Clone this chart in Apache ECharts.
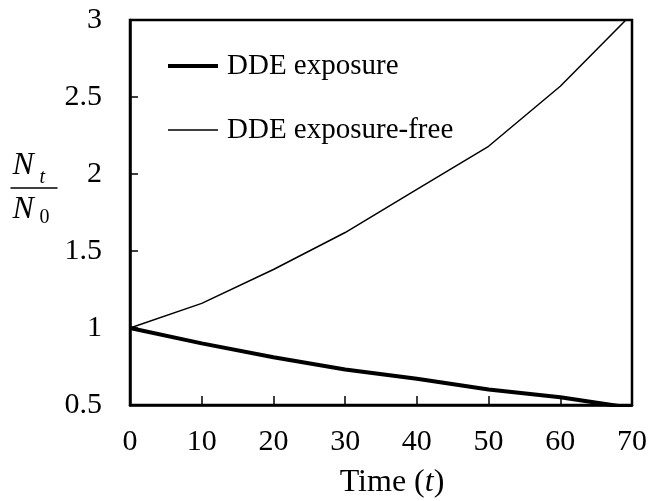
<!DOCTYPE html>
<html>
<head>
<meta charset="utf-8">
<script src="https://cdn.jsdelivr.net/npm/echarts@6/dist/echarts.min.js"></script>
<style>
  html, body { margin: 0; padding: 0; background: #fff; }
  #chart { width: 650px; height: 501px; }
</style>
</head>
<body>
<div id="chart"></div>
<script>
// values
var times = [0, 10, 20, 30, 40, 50, 60, 70];
var exposure = [1, 0.9, 0.81, 0.73, 0.67, 0.6, 0.55, 0.48];
var exposureFree = [1, 1.16, 1.38, 1.62, 1.9, 2.18, 2.57, 3.04];
var yTicks = ["0.5", "1", "1.5", "2", "2.5", "3"];

var font = "Liberation Serif";

function pairs(ys) {
  return times.map(function (t, i) { return [t, ys[i]]; });
}

var mychart = echarts.init(document.getElementById("chart"));
var option = {
  animation: false,
  backgroundColor: "#fff",
  grid: {
    left: 130,
    right: 18,
    top: 20,
    bottom: 96,
    outerBoundsMode: "none",
    containLabel: false,
    show: true,
    borderColor: "#000",
    borderWidth: 2.5,
    backgroundColor: "transparent"
  },
  legend: {
    orient: "vertical",
    left: 163,
    top: 46,
    itemWidth: 50,
    itemHeight: 14,
    itemGap: 34,
    textStyle: {
      fontFamily: font,
      fontSize: 29,
      color: "#000",
      lineHeight: 30,
      padding: [0, 0, 0, 4]
    },
    data: [
      { name: "DDE exposure", icon: "path://M0,0H50V4H0Z", itemStyle: { color: "#000" } },
      { name: "DDE exposure-free", icon: "path://M0,0H50V1.5H0Z", itemStyle: { color: "#000" } }
    ]
  },
  xAxis: {
    type: "value",
    min: 0,
    max: 70,
    interval: 10,
    name: "Time ({i|t})",
    nameLocation: "middle",
    nameGap: 62,
    nameTextStyle: {
      fontFamily: font,
      fontSize: 32,
      color: "#000",
      padding: [0, 0, 0, 22],
      rich: {
        i: { fontFamily: font, fontSize: 32, fontStyle: "italic", color: "#000" }
      }
    },
    axisLine: { lineStyle: { color: "#000", width: 2.5 } },
    axisTick: { inside: true, length: 9, lineStyle: { color: "#000", width: 1.5 } },
    axisLabel: {
      margin: 22,
      fontFamily: font,
      fontSize: 30,
      color: "#000",
      showMaxLabel: true
    },
    splitLine: { show: false }
  },
  yAxis: {
    type: "value",
    min: 0.5,
    max: 3,
    interval: 0.5,
    axisLine: { show: true, lineStyle: { color: "#000", width: 2.5 } },
    axisTick: { show: true, inside: true, length: 8, lineStyle: { color: "#000", width: 1.5 } },
    axisLabel: {
      margin: 28,
      fontFamily: font,
      fontSize: 30,
      color: "#000",
      formatter: function (v) {
        var i = Math.round((v - 0.5) / 0.5);
        return yTicks[i];
      }
    },
    splitLine: { show: false }
  },
  graphic: [
    {
      type: "group",
      left: 8,
      top: 150,
      children: [
        { type: "text", x: 2, y: 2, style: { text: "N", font: "italic 32px " + font, fill: "#000" } },
        { type: "text", x: 29, y: 20, style: { text: "t", font: "italic 20px " + font, fill: "#000" } },
        { type: "line", shape: { x1: 0, y1: 40, x2: 47, y2: 40 }, style: { stroke: "#000", lineWidth: 1.5 } },
        { type: "text", x: 2, y: 46, style: { text: "N", font: "italic 32px " + font, fill: "#000" } },
        { type: "text", x: 29, y: 60, style: { text: "0", font: "20px " + font, fill: "#000" } }
      ]
    }
  ],
  series: [
    {
      name: "DDE exposure",
      type: "line",
      data: pairs(exposure),
      symbol: "none",
      clip: true,
      itemStyle: { color: "#000" },
      lineStyle: { color: "#000", width: 4 }
    },
    {
      name: "DDE exposure-free",
      type: "line",
      data: pairs(exposureFree),
      symbol: "none",
      clip: true,
      itemStyle: { color: "#000" },
      lineStyle: { color: "#000", width: 1.5 }
    }
  ]
};
mychart.setOption(option);
</script>
</body>
</html>
